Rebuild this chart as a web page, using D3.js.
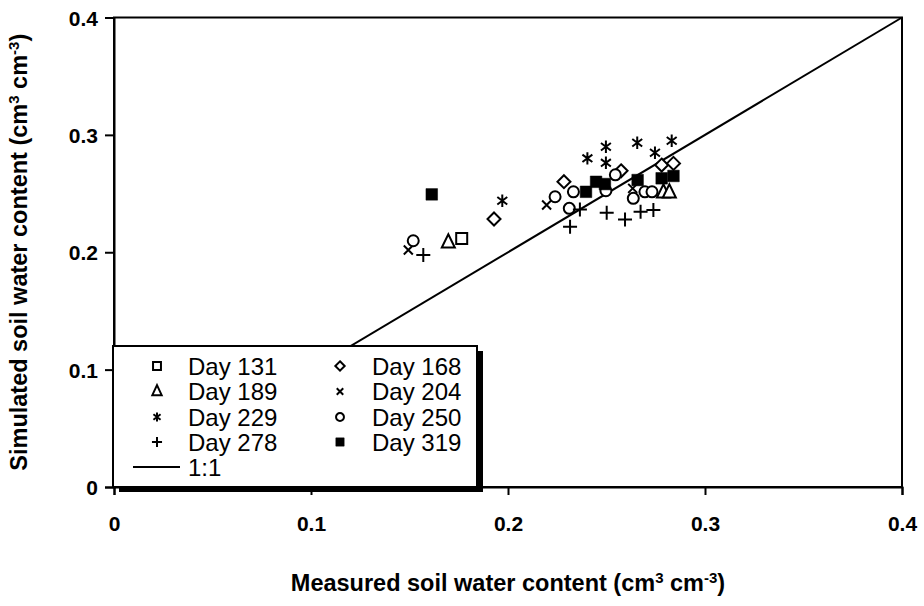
<!DOCTYPE html>
<html>
<head>
<meta charset="utf-8">
<script src="https://cdn.jsdelivr.net/npm/d3@7"></script>
<style>
  html, body { margin: 0; padding: 0; background: #fff; }
  svg { display: block; font-family: Arial, "Liberation Sans", Helvetica, sans-serif; }
</style>
</head>
<body>
<svg id="chart" width="924" height="606"></svg>
<script>
// Measured vs simulated soil water content (cm3 cm-3), by sampling day
const day131Measured = [0.1765];
const day131Simulated = [0.2118];
const day168Measured = [0.1929, 0.2284, 0.2574, 0.2780, 0.2840];
const day168Simulated = [0.2283, 0.2601, 0.2694, 0.2743, 0.2757];
const day189Measured = [0.1697, 0.2789, 0.2819];
const day189Simulated = [0.2081, 0.2507, 0.2507];
const day204Measured = [0.1494, 0.2196, 0.2633];
const day204Simulated = [0.2019, 0.2402, 0.2544];
const day229Measured = [0.1971, 0.2403, 0.2497, 0.2497, 0.2656, 0.2746, 0.2831];
const day229Simulated = [0.2439, 0.2800, 0.2899, 0.2762, 0.2933, 0.2848, 0.2950];
const day250Measured = [0.1519, 0.2239, 0.2311, 0.2332, 0.2497, 0.2545, 0.2636, 0.2695, 0.2731];
const day250Simulated = [0.2098, 0.2473, 0.2374, 0.2515, 0.2524, 0.2660, 0.2459, 0.2515, 0.2515];
const day278Measured = [0.1570, 0.2315, 0.2365, 0.2501, 0.2594, 0.2673, 0.2738];
const day278Simulated = [0.1976, 0.2217, 0.2365, 0.2337, 0.2280, 0.2345, 0.2360];
const day319Measured = [0.1613, 0.2396, 0.2447, 0.2492, 0.2658, 0.2780, 0.2840];
const day319Simulated = [0.2493, 0.2515, 0.2600, 0.2581, 0.2615, 0.2630, 0.2650];

const seriesNames = ["Day 131", "Day 168", "Day 189", "Day 204", "Day 229", "Day 250", "Day 278", "Day 319"];
const seriesSymbols = ["square", "diamond", "triangle", "times", "asterisk", "circle", "plus", "filledSquare"];
const seriesMeasured = [day131Measured, day168Measured, day189Measured, day204Measured,
                        day229Measured, day250Measured, day278Measured, day319Measured];
const seriesSimulated = [day131Simulated, day168Simulated, day189Simulated, day204Simulated,
                         day229Simulated, day250Simulated, day278Simulated, day319Simulated];

// Legend rows: left column / right column
const legendLeft = ["Day 131", "Day 189", "Day 229", "Day 278"];
const legendRight = ["Day 168", "Day 204", "Day 250", "Day 319"];
const oneToOneLabel = "1:1";
const oneToOne = [0, 0.4];

const xTicks = [0, 0.1, 0.2, 0.3, 0.4];
const yTicks = [0, 0.1, 0.2, 0.3, 0.4];

const svg = d3.select("#chart");
const plot = { left: 114, right: 902, top: 17.5, bottom: 487 };

const x = d3.scaleLinear().domain([0, 0.4]).range([plot.left, plot.right]);
const y = d3.scaleLinear().domain([0, 0.4]).range([plot.bottom, plot.top]);

const fmt = d => d === 0 ? "0" : d3.format(".1f")(d);

// Marker outlines, s = half-size in px
function markerPath(kind, s) {
  const p = d3.path();
  switch (kind) {
    case "square":
    case "filledSquare":
      p.rect(-s, -s, 2 * s, 2 * s); break;
    case "diamond":
      p.moveTo(0, -s); p.lineTo(s, 0); p.lineTo(0, s); p.lineTo(-s, 0); p.closePath(); break;
    case "triangle": {
      const h = s * Math.sqrt(3);
      p.moveTo(0, -h * 2 / 3 - 1); p.lineTo(s, h / 3 + 1); p.lineTo(-s, h / 3 + 1); p.closePath(); break;
    }
    case "circle":
      p.arc(0, 0, s, 0, 2 * Math.PI); break;
    case "plus":
      p.moveTo(-s, 0); p.lineTo(s, 0); p.moveTo(0, -s); p.lineTo(0, s); break;
    case "times": {
      const t = s * 0.75;
      p.moveTo(-t, -t); p.lineTo(t, t); p.moveTo(-t, t); p.lineTo(t, -t); break;
    }
    case "asterisk": {
      const u = s * 0.8, v = s * 0.6;
      p.moveTo(0, -s); p.lineTo(0, s);
      p.moveTo(-u, -v); p.lineTo(u, v); p.moveTo(-u, v); p.lineTo(u, -v); break;
    }
  }
  return p.toString();
}
const markerSize = { square: 5.5, filledSquare: 5.8, diamond: 6.5, triangle: 6.5, circle: 5.5, plus: 7, times: 6, asterisk: 6.2 };

function drawMarker(g, kind, scale) {
  const filled = kind === "filledSquare";
  const open = ["square", "diamond", "triangle", "circle"].includes(kind);
  g.append("path")
    .attr("d", markerPath(kind, markerSize[kind] * scale))
    .attr("fill", filled ? "#000" : (open ? "#fff" : "none"))
    .attr("stroke", "#000")
    .attr("stroke-width", filled ? 0.5 : 2)
    .attr("stroke-linejoin", "miter");
}

// Frame
svg.append("rect")
  .attr("x", plot.left).attr("y", plot.top)
  .attr("width", plot.right - plot.left).attr("height", plot.bottom - plot.top)
  .attr("fill", "none").attr("stroke", "#000").attr("stroke-width", 2);

// Axes
const xAxis = svg.append("g")
  .attr("transform", `translate(0,${plot.bottom})`)
  .call(d3.axisBottom(x).tickValues(xTicks).tickFormat(fmt).tickSize(8).tickPadding(21));
const yAxis = svg.append("g")
  .attr("transform", `translate(${plot.left},0)`)
  .call(d3.axisLeft(y).tickValues(yTicks).tickFormat(fmt).tickSize(9).tickPadding(7));
[xAxis, yAxis].forEach(a => {
  a.select(".domain").attr("stroke", "#000").attr("stroke-width", 2);
  a.selectAll(".tick line").attr("stroke", "#000").attr("stroke-width", 2);
  a.selectAll(".tick text")
    .attr("fill", "#000")
    .style("font-size", "21px").style("font-weight", "bold")
    .style("font-family", "Arial, 'Liberation Sans', sans-serif");
});
yAxis.selectAll(".tick text").attr("dy", "0.36em");

// 1:1 line
svg.append("line")
  .attr("x1", x(oneToOne[0])).attr("y1", y(oneToOne[0]))
  .attr("x2", x(oneToOne[1])).attr("y2", y(oneToOne[1]))
  .attr("stroke", "#000").attr("stroke-width", 2);

// Points
seriesNames.forEach((name, i) => {
  const kind = seriesSymbols[i];
  seriesMeasured[i].forEach((mv, j) => {
    const g = svg.append("g")
      .attr("transform", `translate(${x(mv)},${y(seriesSimulated[i][j])})`);
    drawMarker(g, kind, 1);
  });
});

// Legend with drop shadow
const lg = { x0: 113, y0: 346, x1: 477, y1: 487 };
svg.append("rect")
  .attr("x", lg.x0 + 6).attr("y", lg.y0 + 5)
  .attr("width", lg.x1 - lg.x0).attr("height", lg.y1 - lg.y0)
  .attr("fill", "#000");
svg.append("rect")
  .attr("x", lg.x0).attr("y", lg.y0)
  .attr("width", lg.x1 - lg.x0).attr("height", lg.y1 - lg.y0)
  .attr("fill", "#fff").attr("stroke", "#000").attr("stroke-width", 2);

const rowY = [366, 391.5, 417, 442];
const colSym = [157, 340], colText = [188, 372];
[legendLeft, legendRight].forEach((col, c) => {
  col.forEach((name, r) => {
    const kind = seriesSymbols[seriesNames.indexOf(name)];
    const g = svg.append("g").attr("transform", `translate(${colSym[c]},${rowY[r]})`);
    drawMarker(g, kind, 0.72);
    svg.append("text")
      .attr("x", colText[c]).attr("y", rowY[r]).attr("dy", "0.36em")
      .style("font-size", "24px").text(name);
  });
});
svg.append("line")
  .attr("x1", 133).attr("x2", 180).attr("y1", 467).attr("y2", 467)
  .attr("stroke", "#000").attr("stroke-width", 2);
svg.append("text")
  .attr("x", colText[0]).attr("y", 467).attr("dy", "0.36em")
  .style("font-size", "24px").text(oneToOneLabel);

// Axis titles
function title(t, parts) {
  parts.forEach(([s, sup]) => {
    const ts = t.append("tspan").text(s);
    if (sup) ts.attr("baseline-shift", "super").style("font-size", "15px");
  });
}
const xt = svg.append("text")
  .attr("x", (plot.left + plot.right) / 2).attr("y", 591)
  .attr("text-anchor", "middle")
  .style("font-size", "23.5px").style("font-weight", "bold");
title(xt, [["Measured soil water content (cm"], ["3", true], [" cm"], ["-3", true], [")"]]);

const yt = svg.append("text")
  .attr("transform", `translate(27,${(plot.top + plot.bottom) / 2}) rotate(-90)`)
  .attr("text-anchor", "middle")
  .style("font-size", "23.5px").style("font-weight", "bold");
title(yt, [["Simulated soil water content (cm"], ["3", true], [" cm"], ["-3", true], [")"]]);
</script>
</body>
</html>
